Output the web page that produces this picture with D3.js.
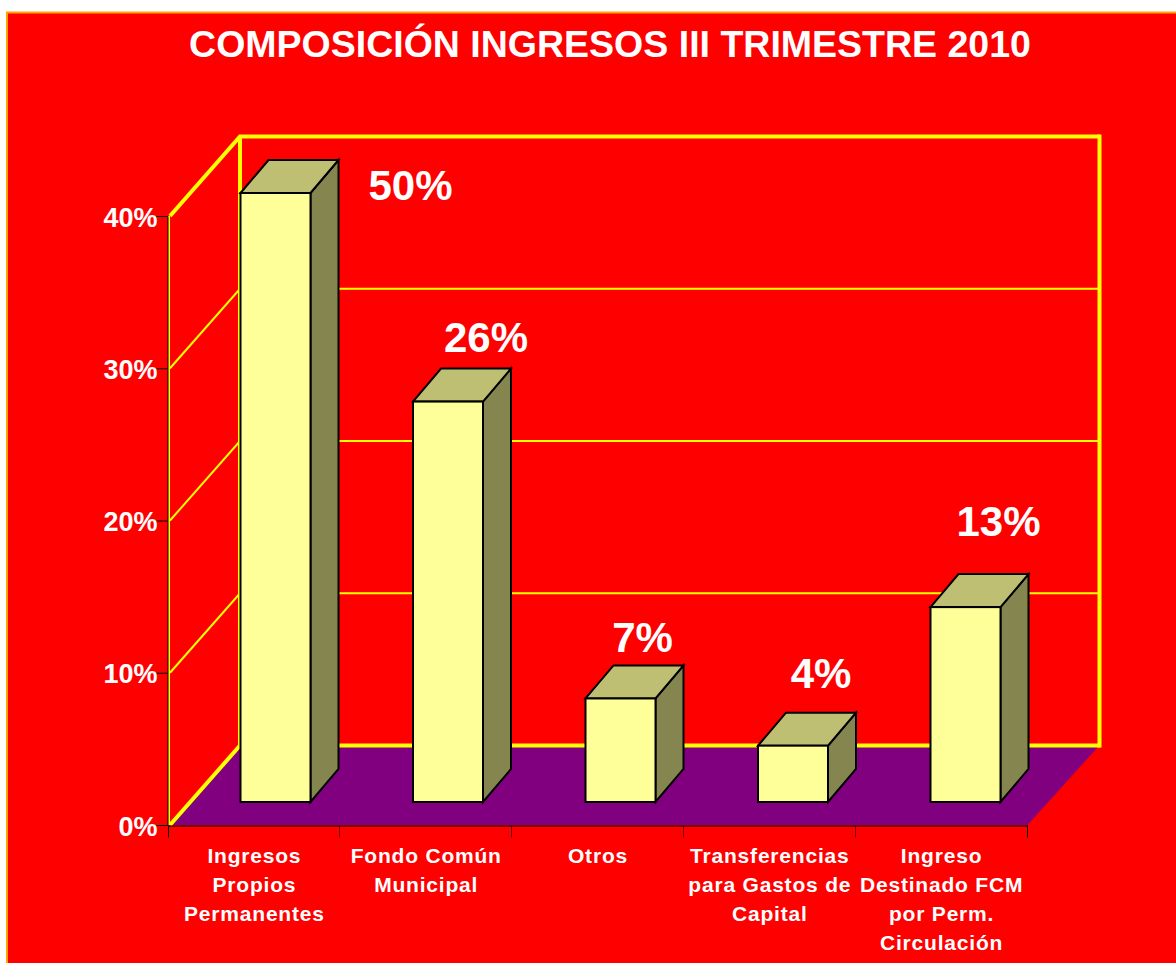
<!DOCTYPE html>
<html>
<head>
<meta charset="utf-8">
<script src="https://cdn.jsdelivr.net/npm/d3@7"></script>
<style>
  body { margin: 0; background: #fff; }
  text { font-family: "Liberation Sans", Arial, sans-serif; font-weight: bold; fill: #fff; }
</style>
</head>
<body>
<script>
// Data
var title = 'COMPOSICIÓN INGRESOS III TRIMESTRE 2010';
var categories = ['Ingresos Propios Permanentes', 'Fondo Común Municipal', 'Otros', 'Transferencias para Gastos de Capital', 'Ingreso Destinado FCM por Perm. Circulación'];
var categoryLines = [
  ['Ingresos', 'Propios', 'Permanentes'],
  ['Fondo Común', 'Municipal'],
  ['Otros'],
  ['Transferencias', 'para Gastos de', 'Capital'],
  ['Ingreso', 'Destinado FCM', 'por Perm.', 'Circulación']
];
var values = [50, 26.3, 6.8, 3.7, 12.8];
var valueLabels = ['50%', '26%', '7%', '4%', '13%'];
var yTicks = [0, 10, 20, 30, 40];

// The labels were moved by hand in the original, so they sit at uneven offsets from the bars
var labelOffsets = [[170, 7], [73, -50], [57, -46], [63, -58], [68, -71]];

var wallDx = 70, wallDy = -79.5;   // depth of the chart box
var barDx = 28, barDy = -33;       // depth of a bar
var barW = 70;

var svg = d3.select('body')
            .append('svg')
            .attr('width', 1176)
            .attr('height', 963)
            .style('display', 'block');

// Red panel
svg.append('rect')
   .attr('x', 7).attr('y', 12.5)
   .attr('width', 1180).attr('height', 970)
   .attr('fill', '#ff0000')
   .attr('stroke', '#ffa500')
   .attr('stroke-width', 2);

svg.append('text')
   .attr('x', 610).attr('y', 57)
   .attr('text-anchor', 'middle')
   .style('font-size', '37.5px')
   .text(title);

// Scales. The first bar runs off the top of the axis so the scale is clamped
var y = d3.scaleLinear().domain([0, 40]).range([825, 216]).clamp(true);
var x = d3.scaleBand().domain(categories).range([168.5, 1027.5]);
var barX = d3.scaleBand().domain(categories).range([240.5, 240.5 + 5 * 172.5]);

// Floor
svg.append('polygon')
   .attr('points', [[170, 825], [1027.5, 825], [1098, 747], [240, 747]].join(' '))
   .attr('fill', '#800080');

// Back wall and side wall gridlines
var grid = svg.append('g').attr('stroke', '#ffff00').attr('fill', 'none');

yTicks.forEach(function(t) {
  var thick = t === 0 || t === 40;
  grid.append('path')
      .attr('d', d3.line()([[170, y(t)], [170 + wallDx, y(t) + wallDy], [1100, y(t) + wallDy]]))
      .attr('stroke-width', thick ? 4 : 2);
});

grid.append('line')
    .attr('x1', 240).attr('x2', 240)
    .attr('y1', y(40) + wallDy).attr('y2', y(0) + wallDy)
    .attr('stroke-width', 4);
grid.append('line')
    .attr('x1', 1099.5).attr('x2', 1099.5)
    .attr('y1', y(40) + wallDy - 2).attr('y2', y(0) + wallDy + 2)
    .attr('stroke-width', 4);
grid.append('line')
    .attr('x1', 169).attr('x2', 169)
    .attr('y1', y(40)).attr('y2', y(0))
    .attr('stroke-width', 2);

// Bars: front, top and side faces
var bars = svg.append('g')
              .selectAll('g')
              .data(categories)
              .enter()
              .append('g')
              .attr('stroke', '#000')
              .attr('stroke-width', 2)
              .attr('stroke-linejoin', 'miter');

function barTop(d, i) { return y(values[i]) - 23; }
var barBase = y(0) - 23;

bars.append('polygon')
    .attr('fill', '#858550')
    .attr('points', function(d, i) {
      var r = barX(d) + barW, t = barTop(d, i);
      return [[r, t], [r + barDx, t + barDy], [r + barDx, barBase + barDy], [r, barBase]].join(' ');
    });

bars.append('polygon')
    .attr('fill', '#bfbf73')
    .attr('points', function(d, i) {
      var l = barX(d), t = barTop(d, i);
      return [[l, t], [l + barDx, t + barDy], [l + barW + barDx, t + barDy], [l + barW, t]].join(' ');
    });

bars.append('rect')
    .attr('fill', '#ffff99')
    .attr('x', function(d) { return barX(d); })
    .attr('y', barTop)
    .attr('width', barW)
    .attr('height', function(d, i) { return barBase - barTop(d, i); });

// Value labels
svg.append('g')
   .selectAll('text')
   .data(valueLabels)
   .enter()
   .append('text')
   .attr('text-anchor', 'middle')
   .style('font-size', '42px')
   .attr('x', function(d, i) { return barX(categories[i]) + labelOffsets[i][0]; })
   .attr('y', function(d, i) { return barTop(categories[i], i) + labelOffsets[i][1]; })
   .text(function(d) { return d; });

// Axes
var yAxis = d3.axisLeft(y)
              .tickValues(yTicks)
              .tickFormat(function(d) { return d + '%'; })
              .tickSize(11)
              .tickPadding(0);

var gy = svg.append('g')
            .attr('transform', 'translate(167.5,0)')
            .call(yAxis);
gy.selectAll('.domain').attr('stroke', '#000').attr('stroke-width', 1);
gy.selectAll('.tick line').attr('stroke', '#000').attr('stroke-width', 1);
gy.selectAll('.tick text')
  .style('font-family', '"Liberation Sans", Arial, sans-serif')
  .style('font-size', '27px')
  .attr('x', -10)
  .attr('dy', '0.37em');

var xAxis = d3.axisBottom(x)
              .tickSize(0)
              .tickFormat('');

var gx = svg.append('g')
            .attr('transform', 'translate(0,825.5)')
            .call(xAxis);
gx.selectAll('.domain').attr('stroke', '#000').attr('stroke-width', 1);

// Axis tick marks sit between the categories
gx.selectAll('.sep')
  .data(d3.range(categories.length + 1))
  .enter()
  .append('line')
  .attr('class', 'sep')
  .attr('x1', function(i) { return Math.round(168.5 + i * x.step()) - 0.5; })
  .attr('x2', function(i) { return Math.round(168.5 + i * x.step()) - 0.5; })
  .attr('y1', 0)
  .attr('y2', 12)
  .attr('stroke', '#000')
  .attr('stroke-opacity', function(i) { return i === 0 || i === categories.length ? 1 : 0.6; });

// Category labels
var cats = svg.append('g')
              .selectAll('text')
              .data(categories)
              .enter()
              .append('text')
              .attr('text-anchor', 'middle')
              .style('font-size', '21px')
              .style('letter-spacing', '0.8px')
              .attr('y', 863);

cats.selectAll('tspan')
    .data(function(d, i) { return categoryLines[i]; })
    .enter()
    .append('tspan')
    .attr('x', function() { return x(d3.select(this.parentNode).datum()) + x.bandwidth() / 2; })
    .attr('dy', function(d, i) { return i === 0 ? 0 : 29; })
    .text(function(d) { return d; });
</script>
</body>
</html>
